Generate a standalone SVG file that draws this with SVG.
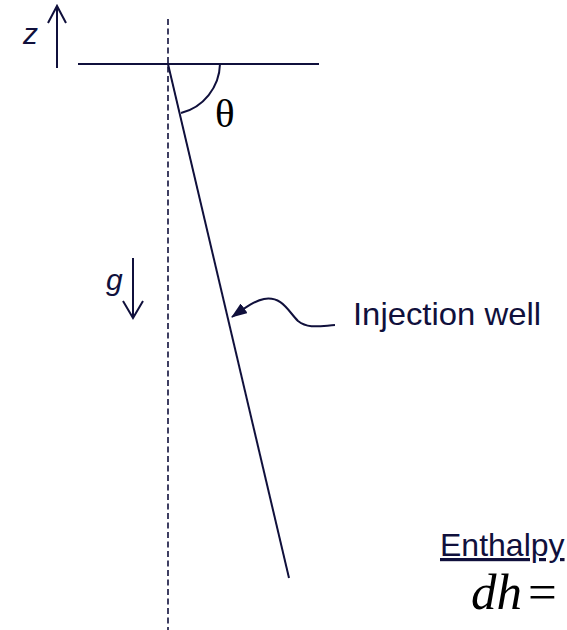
<svg xmlns="http://www.w3.org/2000/svg" width="567" height="630" viewBox="0 0 567 630">
<style>
.ln{stroke:#10103c;fill:none;stroke-width:2}
.dash{stroke:#10103c;fill:none;stroke-width:1.6;stroke-dasharray:6 3.5}
.lbl{font-family:"Liberation Sans",Arial,sans-serif;fill:#10103c}
.math{font-family:"Liberation Serif","Times New Roman",serif;fill:#000}
</style>
<defs>
<marker id="fill" viewBox="0 0 16 12" refX="15" refY="6" markerWidth="16" markerHeight="12" orient="auto" markerUnits="userSpaceOnUse">
<path d="M0,0 L16,6 L0,12 z" fill="#10103c"/>
</marker>
</defs>
<g id="axes">
<path class="dash" d="M168,19 V630"/>
<path class="ln" d="M78,64 H319"/>
</g>
<g id="well">
<path class="ln" d="M168,64 L289,578"/>
</g>
<g id="theta">
<path class="ln" d="M220,64 A52,52 0 0 1 181,113"/>
<text class="math" x="215" y="127" font-size="41">θ</text>
</g>
<g id="z-axis">
<path class="ln" d="M57,68 V6 M48,23 L57,6 L66,23"/>
<text class="lbl" x="23" y="44" font-size="30" font-style="italic">z</text>
</g>
<g id="gravity">
<path class="ln" d="M133,258 V318 M123,301 L133,318 L143,301"/>
<text class="lbl" x="106" y="290" font-size="30" font-style="italic">g</text>
</g>
<g id="connectors">
<path class="ln" d="M335,325 C320,326 308,329 298,321 C288,311 282,296 264,299 C254,301 246,307 232,317" marker-end="url(#fill)" stroke-width="2.4"/>
</g>
<g id="injection-label">
<text class="lbl" x="353" y="325" font-size="32" textLength="188" lengthAdjust="spacingAndGlyphs">Injection well</text>
</g>
<g id="enthalpy">
<text class="lbl" x="440" y="556" font-size="32" text-decoration="underline">Enthalpy</text>
<text class="math" x="471" y="609" font-size="51"><tspan font-style="italic">dh</tspan><tspan dx="6">=</tspan></text>
</g>
</svg>
